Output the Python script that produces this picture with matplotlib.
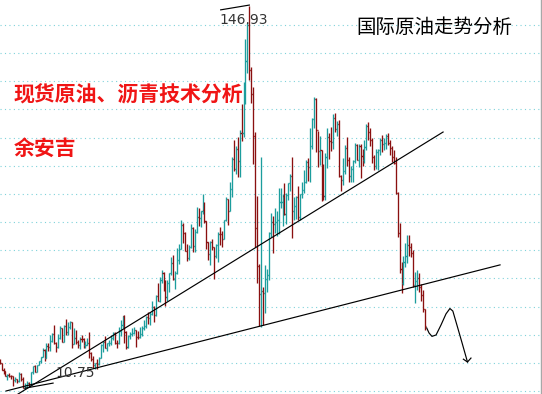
import numpy as np
import matplotlib.pyplot as plt
from matplotlib.collections import LineCollection
from matplotlib.lines import Line2D

# monthly bars of international crude, Nov 1997 .. Jan 2016 (open = previous close)
first_open = 21.0
closes = [
    19.9, 17.6,
    17.2, 15.4, 15.6, 15.4, 15.2, 13.9, 14.2, 13.4, 16.1, 14.4, 11.2, 12.1,
    12.8, 12.3, 16.8, 18.7, 16.8, 19.3, 20.5, 22.1, 24.5, 21.8, 26.1, 25.6,
    27.6, 30.4, 26.9, 25.7, 29.0, 32.5, 27.4, 33.1, 30.8, 32.7, 34.4, 26.8,
    28.7, 27.4, 26.3, 28.5, 28.4, 26.3, 26.4, 27.2, 23.4, 21.2, 19.4, 19.8,
    19.5, 21.7, 26.3, 27.3, 25.3, 26.9, 27.0, 29.0, 30.5, 27.2, 26.9, 31.2,
    33.5, 36.6, 31.0, 25.8, 29.6, 30.2, 30.5, 31.6, 29.2, 29.1, 30.4, 32.5,
    33.1, 36.2, 35.8, 37.4, 39.9, 37.1, 43.8, 42.1, 49.6, 51.8, 49.1, 43.5,
    48.2, 51.8, 55.4, 49.7, 52.0, 56.5, 60.6, 68.9, 66.2, 59.8, 57.3, 61.0,
    67.9, 61.4, 66.6, 71.9, 71.3, 73.9, 74.4, 70.3, 62.9, 58.7, 63.1, 61.1,
    58.1, 61.8, 65.9, 65.7, 64.0, 70.7, 78.2, 74.0, 81.7, 92.5, 88.7, 96.0,
    91.8, 101.8, 101.6, 113.5, 127.4, 140.0, 124.1, 115.5, 100.6, 67.8, 54.4, 44.6,
    45.5, 44.8, 49.7, 51.1, 66.3, 69.9, 69.5, 70.0, 70.6, 77.0, 77.3, 79.4,
    72.9, 79.7, 83.8, 86.2, 74.0, 75.6, 79.0, 71.9, 80.0, 81.4, 84.1, 91.4,
    89.5, 97.0, 106.7, 113.9, 102.7, 95.4, 95.7, 88.8, 79.2, 93.2, 100.4, 98.8,
    98.5, 107.1, 103.0, 104.9, 86.5, 85.0, 88.1, 96.5, 92.2, 86.2, 88.9, 91.8,
    97.5, 92.1, 97.2, 93.5, 92.0, 96.6, 104.0, 102.0, 99.0, 93.0, 90.0, 95.0,
    95.6, 99.0, 97.8, 98.0, 100.5, 98.0, 96.5, 93.0, 91.0, 80.5, 66.2, 53.3,
    48.2, 56.0, 58.0, 62.0, 61.0, 59.0, 47.5, 49.2, 50.0, 47.0, 44.0, 39.0,
    33.0,
]
highs = [
    21.3, 19.9,
    18.1, 17.2, 16.2, 16.5, 15.6, 15.3, 14.9, 14.3, 16.9, 16.3, 14.9, 12.9,
    13.4, 13.1, 16.9, 18.8, 19.3, 19.4, 20.8, 22.2, 25.2, 24.8, 27.1, 27.1,
    30.0, 30.5, 33.5, 27.3, 30.1, 33.0, 32.5, 33.3, 35.6, 34.5, 35.0, 34.6,
    32.2, 31.6, 28.1, 29.1, 29.9, 29.0, 27.7, 28.9, 31.0, 23.9, 22.6, 20.0,
    21.5, 21.9, 26.7, 27.8, 29.4, 27.0, 28.0, 29.9, 31.0, 30.8, 28.0, 32.7,
    35.2, 36.8, 36.9, 31.3, 30.0, 31.1, 32.2, 32.6, 31.6, 31.4, 32.8, 33.0,
    35.2, 36.6, 38.2, 38.2, 41.9, 40.1, 44.0, 48.5, 50.5, 53.0, 52.1, 49.4,
    49.6, 52.0, 57.6, 58.3, 52.6, 60.9, 62.1, 70.8, 69.8, 66.5, 62.1, 61.9,
    69.2, 68.2, 67.4, 75.4, 74.9, 74.1, 80.0, 77.3, 70.4, 62.9, 63.3, 64.0,
    61.1, 62.3, 66.5, 68.1, 66.7, 70.9, 78.8, 78.3, 84.1, 93.0, 99.3, 97.0,
    100.1, 102.6, 111.8, 119.9, 135.1, 140.7, 146.93, 125.0, 118.0, 102.0, 79.1, 55.2,
    93.0, 47.0, 54.7, 53.4, 66.4, 73.4, 72.0, 75.0, 74.0, 82.0, 82.0, 80.0,
    84.0, 80.5, 83.9, 87.2, 93.0, 79.0, 79.1, 82.9, 80.1, 84.3, 88.6, 92.0,
    92.6, 103.4, 107.0, 114.6, 114.0, 102.4, 100.6, 95.6, 90.5, 94.6, 103.4, 101.8,
    103.7, 108.5, 108.8, 106.0, 106.4, 86.6, 92.9, 97.4, 100.4, 93.0, 89.9, 91.9,
    98.2, 97.8, 97.8, 97.7, 96.0, 99.0, 105.0, 105.5, 103.5, 100.0, 94.0, 96.0,
    96.0, 100.0, 101.0, 100.0, 101.3, 101.6, 99.0, 97.0, 95.6, 93.0, 80.7, 69.7,
    56.0, 58.0, 62.6, 65.4, 65.4, 62.6, 60.0, 52.3, 53.0, 52.0, 48.0, 45.9,
    39.0,
]
lows = [
    19.6, 17.6,
    16.1, 15.2, 13.9, 14.8, 14.3, 11.9, 13.2, 12.8, 13.2, 13.6, 11.0, 10.75,
    11.3, 11.4, 12.0, 16.0, 16.6, 16.6, 19.2, 19.8, 21.9, 20.6, 21.6, 24.1,
    24.2, 27.3, 26.8, 23.7, 25.2, 28.5, 27.3, 27.3, 30.0, 30.0, 32.0, 25.1,
    26.7, 26.8, 25.3, 24.9, 27.4, 25.3, 25.2, 26.3, 21.8, 20.8, 18.2, 17.9,
    17.9, 19.3, 21.6, 23.9, 25.3, 24.2, 25.9, 26.5, 28.0, 26.8, 25.1, 26.8,
    29.6, 32.4, 26.9, 25.0, 25.1, 28.4, 29.7, 30.3, 25.6, 28.5, 28.8, 29.5,
    31.8, 32.2, 33.8, 33.4, 37.1, 34.5, 36.6, 42.0, 41.6, 48.4, 45.6, 40.3,
    42.1, 45.0, 51.1, 49.3, 46.2, 51.4, 55.2, 60.4, 62.5, 59.7, 56.3, 56.7,
    60.8, 59.5, 59.4, 66.0, 68.5, 68.2, 72.8, 69.8, 60.4, 56.6, 54.9, 60.0,
    49.9, 57.2, 56.0, 61.9, 61.2, 64.0, 70.3, 69.0, 73.9, 79.0, 88.0, 87.0,
    86.1, 86.1, 98.7, 100.1, 112.1, 122.9, 120.4, 112.2, 90.5, 61.3, 48.3, 33.0,
    32.7, 33.6, 37.8, 45.2, 49.3, 64.6, 59.0, 66.2, 65.1, 65.8, 75.0, 68.6,
    72.4, 69.5, 77.9, 81.0, 64.2, 70.8, 71.2, 70.8, 70.8, 78.4, 80.2, 84.0,
    84.6, 84.1, 95.8, 103.4, 95.0, 89.6, 90.3, 77.5, 77.9, 78.0, 89.2, 92.5,
    95.4, 96.0, 102.0, 100.7, 86.0, 81.0, 83.2, 87.0, 90.0, 84.1, 84.1, 84.1,
    91.1, 92.0, 89.6, 85.6, 89.9, 91.1, 95.7, 99.0, 97.0, 91.0, 88.5, 89.0,
    88.5, 94.0, 95.0, 95.5, 96.0, 97.5, 94.0, 91.5, 90.5, 80.0, 64.7, 52.0,
    44.8, 47.5, 54.0, 55.5, 58.0, 57.6, 47.0, 41.3, 46.0, 45.0, 42.0, 38.0,
    31.7,
]

peak_label = '146.93'
low_label = '10.75'
title = '国际原油走势分析'
subtitle = '现货原油、沥青技术分析'
author = '余安吉'
grid_levels = list(range(10, 150, 10))

# hand drawn annotations in (month index, price)
support_line = ([3.3, 256.5], [10.0, 54.8])
uptrend_line = ([9.4, 227.3], [8.9, 102.0])
peak_pointer = ([113.3, 128.0], [145.4, 147.1])
low_pointer = ([13.0, 27.4], [11.0, 12.8])
forecast_x = [218.9, 220.1, 221.6, 223.7, 226.2, 228.8, 230.8, 232.3, 234.4, 236.9, 239.8]
forecast_y = [32.4, 30.6, 29.4, 29.9, 33.4, 37.4, 39.3, 38.4, 33.4, 27.4, 20.3]
arrow_x = [237.7, 239.8, 241.6]
arrow_y = [21.3, 20.3, 21.7]

up_color = '#1c9d9d'
down_color = '#8a1010'
cjk = ['Noto Sans CJK SC', 'DejaVu Sans']

fig = plt.figure(figsize=(5.42, 3.94), dpi=100)
fig.patch.set_facecolor('white')
ax = fig.add_axes([0, 0, 1, 1])
ax.set_xlim(0.19, 278.0)
ax.set_ylim(8.93, 148.9)
ax.axis('off')

for lv in grid_levels:
    ax.axhline(lv, color='#7fd2da', lw=0.8, linestyle=(0, (1.0, 3.0)), zorder=0)

opens = [first_open] + closes[:-1]
segs, cols = [], []
for i in range(len(closes)):
    o, h, l, c = opens[i], highs[i], lows[i], closes[i]
    col = up_color if c >= o else down_color
    segs.append([(i, l), (i, h)])
    segs.append([(i - 0.55, o), (i, o)])
    segs.append([(i, c), (i + 0.55, c)])
    cols += [col] * 3
ax.add_collection(LineCollection(segs, colors=cols, linewidths=0.95, zorder=2))

for xs, ys in (support_line, uptrend_line, peak_pointer, low_pointer):
    ax.plot(xs, ys, color='black', lw=0.85, zorder=3)
ax.plot(forecast_x, forecast_y, color='black', lw=0.85, zorder=3)
ax.plot(arrow_x, arrow_y, color='black', lw=0.85, zorder=3)

W, H = 542, 394
fig.add_artist(Line2D([540.5 / W] * 2, [0, 1], color='#a8a8a8', lw=1.0))

fig.text(219 / W, 1 - 20.5 / H, peak_label, ha='left', va='center', fontsize=10, color='#333333')
fig.text(55 / W, 1 - 373 / H, low_label, ha='left', va='center', fontsize=10, color='#333333')
fig.text(14 / W, 1 - 95 / H, subtitle, ha='left', va='center', fontsize=15,
         fontweight='bold', color='#f01515', family=cjk)
fig.text(14 / W, 1 - 148 / H, author, ha='left', va='center', fontsize=15,
         fontweight='bold', color='#f01515', family=cjk)
fig.text(356 / W, 1 - 27.5 / H, title, ha='left', va='center', fontsize=14,
         color='black', family=cjk)

fig.savefig('out.png', dpi=100, facecolor='white')
